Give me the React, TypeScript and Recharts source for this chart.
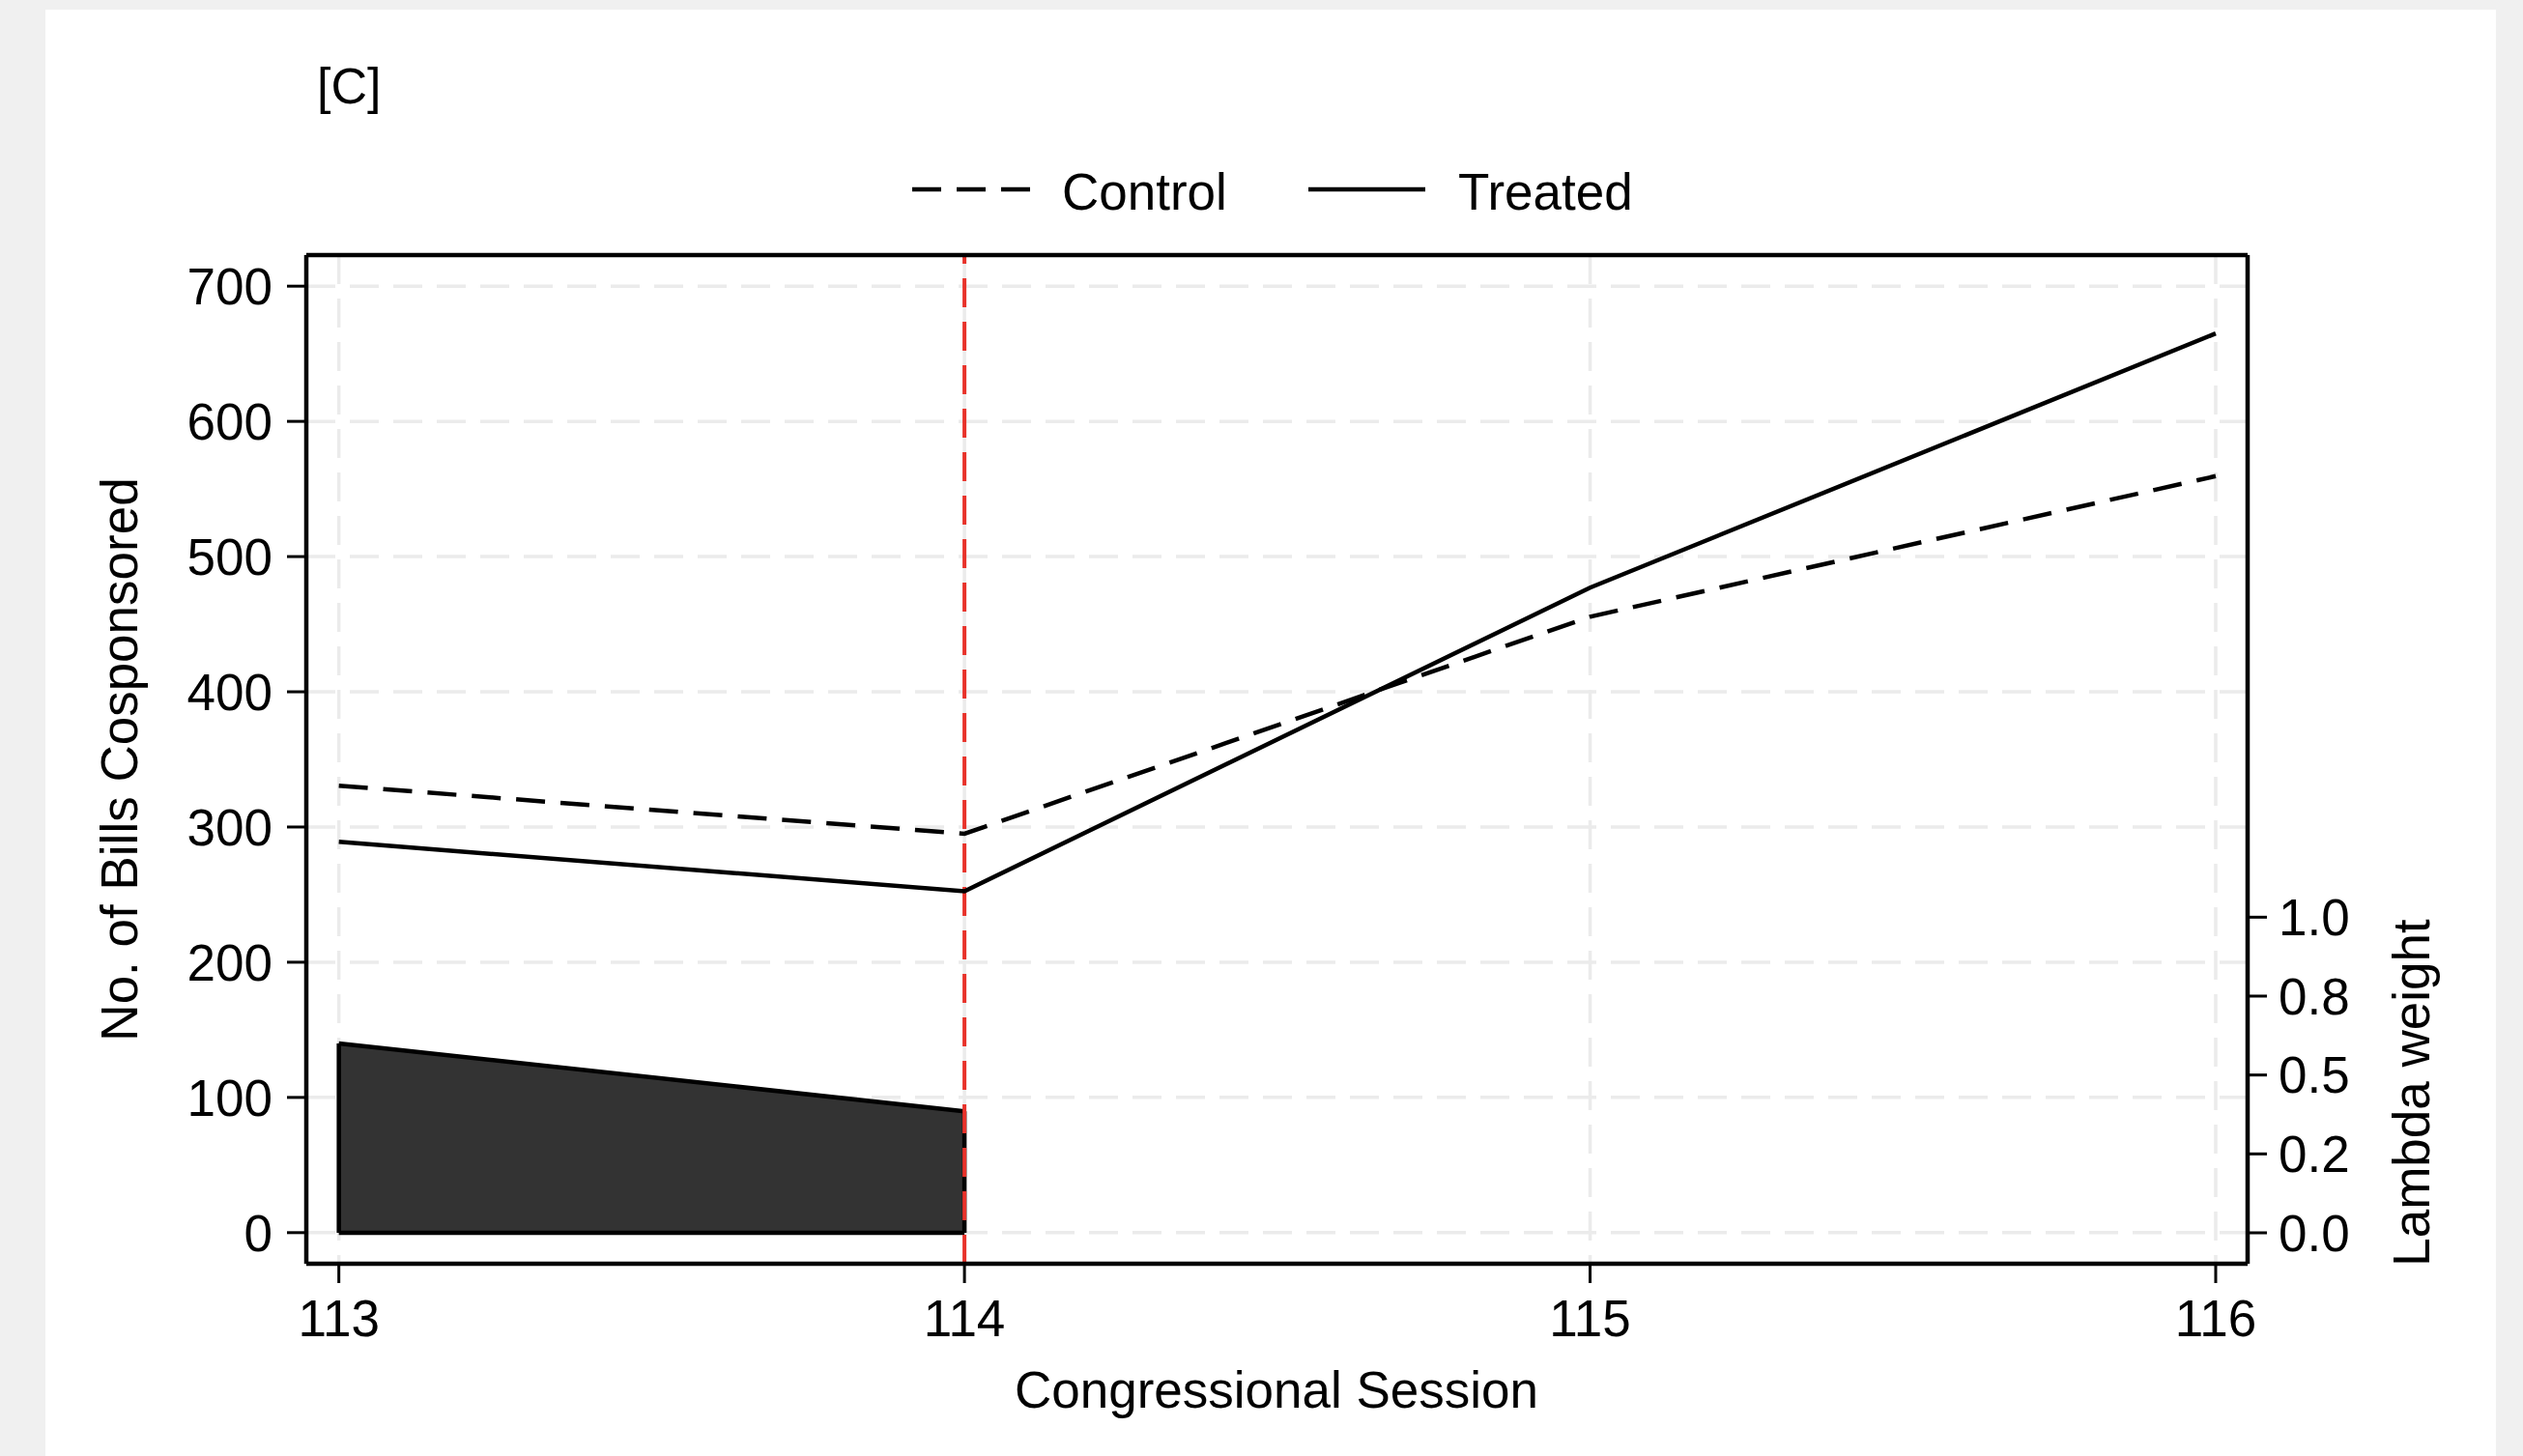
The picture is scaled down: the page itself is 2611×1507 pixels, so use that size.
import {
  ComposedChart,
  Line,
  Area,
  XAxis,
  YAxis,
  CartesianGrid,
  ReferenceLine,
} from "recharts";

// Congressional sessions on the x axis
const sessions = [113, 114, 115, 116];
// No. of bills cosponsored
const controlValues = [330.5, 295, 455.5, 559.5];
const treatedValues = [289, 252.5, 477, 665];
// lambda weights (pre-period only)
const lambdaWeights = [0.6, 0.385, null, null];

const seriesNames = ["Control", "Treated"];
const billTicks = [0, 100, 200, 300, 400, 500, 600, 700];
const lambdaTicks = [0, 0.25, 0.5, 0.75, 1];
const lambdaTickLabels = ["0.0", "0.2", "0.5", "0.8", "1.0"];
const treatmentSession = 114;

const FONT = "'Liberation Sans', Arial, Helvetica, sans-serif";
const W = 2611;
const H = 1507;
const LEFT_W = 200;
const RIGHT_W = 200;
const X_H = 120;

const data = sessions.map((s, i) => ({
  session: s,
  control: controlValues[i],
  treated: treatedValues[i],
  lambda: lambdaWeights[i],
}));

const lambdaEdges = data.filter((d) => d.lambda != null);

const tickStyle = { fontSize: 53, fill: "#000", fontFamily: FONT };
const axisLineStyle = { stroke: "#000", strokeWidth: 4.5 };
const tickLineStyle = { stroke: "#000", strokeWidth: 3 };

export default function App() {
  return (
    <div
      style={{
        position: "absolute",
        left: 0,
        top: 0,
        width: W,
        height: H,
        background: "#f0f0f0",
        overflow: "hidden",
        fontFamily: FONT,
      }}
    >
      <div
        style={{
          position: "absolute",
          left: 47,
          top: 10,
          width: 2536,
          height: H - 10,
          background: "#fff",
        }}
      />
      <div style={{ position: "absolute", left: 0, top: 0 }}>
        <ComposedChart
          width={W}
          height={H}
          data={data}
          margin={{
            top: 263,
            right: W - 2326 - RIGHT_W,
            bottom: H - 1308 - X_H,
            left: 317 - LEFT_W,
          }}
        >
          <CartesianGrid
            yAxisId="left"
            stroke="#ebebeb"
            strokeWidth={3.5}
            strokeDasharray="30 15"
          />
          <XAxis
            dataKey="session"
            type="number"
            domain={[112.948, 116.051]}
            ticks={sessions}
            allowDataOverflow
            height={X_H}
            tickSize={20}
            tickMargin={17}
            tick={tickStyle}
            tickLine={tickLineStyle}
            axisLine={axisLineStyle}
          />
          <XAxis
            xAxisId="top"
            orientation="top"
            dataKey="session"
            type="number"
            domain={[112.948, 116.051]}
            allowDataOverflow
            height={1}
            tick={false}
            tickLine={false}
            axisLine={axisLineStyle}
          />
          <YAxis
            yAxisId="left"
            type="number"
            domain={[-23, 723]}
            ticks={billTicks}
            allowDataOverflow
            width={LEFT_W}
            tickSize={20}
            tickMargin={15}
            tick={tickStyle}
            tickLine={tickLineStyle}
            axisLine={axisLineStyle}
          />
          <YAxis
            yAxisId="right"
            orientation="right"
            type="number"
            domain={[-0.098, 3.098]}
            ticks={lambdaTicks}
            allowDataOverflow
            width={RIGHT_W}
            tickSize={20}
            tickMargin={12}
            tick={tickStyle}
            tickFormatter={(v: number) => lambdaTickLabels[lambdaTicks.indexOf(v)] ?? String(v)}
            tickLine={tickLineStyle}
            axisLine={axisLineStyle}
          />
          <Area
            yAxisId="right"
            type="linear"
            dataKey={(d: any) => (d.lambda == null ? null : [0, d.lambda])}
            baseValue={0}
            fill="#333333"
            fillOpacity={1}
            stroke="#000"
            strokeWidth={4.5}
            isAnimationActive={false}
            dot={false}
            activeDot={false}
          />
          {lambdaEdges.map((d) => (
            <ReferenceLine
              key={`edge-${d.session}`}
              yAxisId="right"
              segment={[
                { x: d.session, y: 0 },
                { x: d.session, y: d.lambda as number },
              ]}
              stroke="#000"
              strokeWidth={4.5}
            />
          ))}
          <ReferenceLine
            yAxisId="left"
            x={treatmentSession}
            stroke="#e8322a"
            strokeWidth={4}
            strokeDasharray="30 15"
          />
          <Line
            yAxisId="left"
            type="linear"
            dataKey="control"
            stroke="#000"
            strokeWidth={4.5}
            strokeDasharray="30 16"
            dot={false}
            activeDot={false}
            isAnimationActive={false}
          />
          <Line
            yAxisId="left"
            type="linear"
            dataKey="treated"
            stroke="#000"
            strokeWidth={4.5}
            dot={false}
            activeDot={false}
            isAnimationActive={false}
          />
        </ComposedChart>
      </div>
      <svg
        width={W}
        height={H}
        style={{ position: "absolute", left: 0, top: 0, pointerEvents: "none" }}
        fontFamily={FONT}
      >
        <text x={328} y={107} fontSize={52} fill="#000">
          [C]
        </text>
        {/* legend */}
        <line x1={944} x2={1066} y1={196} y2={196} stroke="#000" strokeWidth={4.5} strokeDasharray="30 16" />
        <text x={1099} y={217} fontSize={53} fill="#000">
          {seriesNames[0]}
        </text>
        <line x1={1354} x2={1475} y1={196} y2={196} stroke="#000" strokeWidth={4.5} />
        <text x={1509} y={217} fontSize={53} fill="#000">
          {seriesNames[1]}
        </text>
        {/* axis titles */}
        <text x={1321} y={1457} fontSize={53} textAnchor="middle" fill="#000">
          Congressional Session
        </text>
        <text
          x={142}
          y={786}
          fontSize={53}
          textAnchor="middle"
          fill="#000"
          transform="rotate(-90 142 786)"
        >
          No. of Bills Cosponsored
        </text>
        <text
          x={2514}
          y={1131}
          fontSize={53}
          textAnchor="middle"
          fill="#000"
          transform="rotate(-90 2514 1131)"
        >
          Lambda weight
        </text>
      </svg>
    </div>
  );
}
